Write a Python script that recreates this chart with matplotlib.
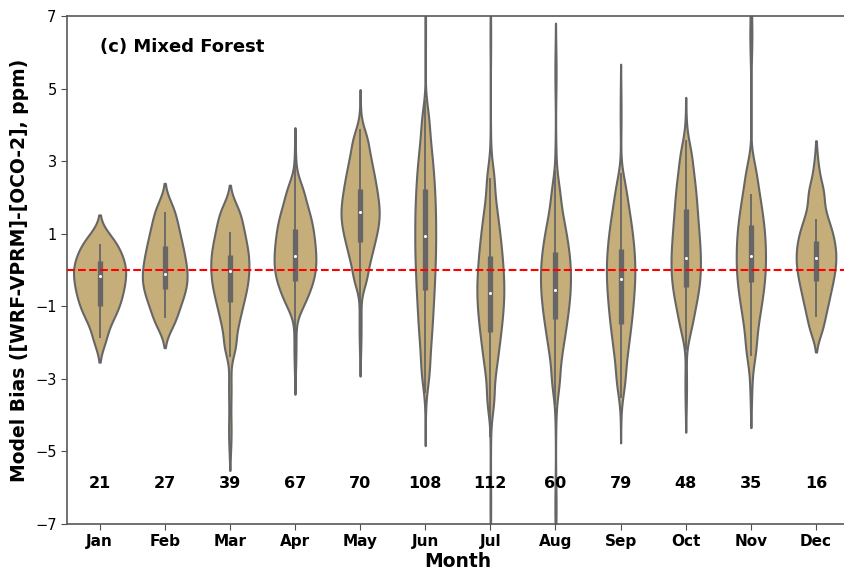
import numpy as np
import matplotlib
matplotlib.use("Agg")
import matplotlib.pyplot as plt

months = ["Jan", "Feb", "Mar", "Apr", "May", "Jun",
          "Jul", "Aug", "Sep", "Oct", "Nov", "Dec"]
counts = [21, 27, 39, 67, 70, 108, 112, 60, 79, 48, 35, 16]

# bulk of each month's bias values (ppm)
bias_jan = [0.88, 0.73, 0.50, 0.34, 0.20, 0.07, -0.07, -0.21, -0.35, -0.50,
            -0.65, -0.82, -0.99, -1.19, -1.42, -1.90]
bias_feb = [1.75, 1.40, 1.12, 0.87, 0.66, 0.46, 0.28, 0.10, -0.06, -0.22,
            -0.38, -0.54, -0.73, -0.92, -1.20, -1.50]
bias_mar = [1.70, 1.39, 1.11, 0.88, 0.66, 0.47, 0.29, 0.11, -0.08, -0.26,
            -0.45, -0.66, -0.90, -1.18, -1.55, -2.10]
bias_apr = [2.26, 1.88, 1.59, 1.38, 1.17, 0.98, 0.80, 0.62, 0.45, 0.28,
            0.12, -0.05, -0.23, -0.41, -0.64, -0.95]
bias_may = [3.63, 3.19, 2.87, 2.60, 2.37, 2.15, 1.95, 1.76, 1.58, 1.40,
            1.22, 1.01, 0.80, 0.53, 0.22, -0.25]
bias_jun = [4.16, 3.49, 3.03, 2.67, 2.34, 2.03, 1.74, 1.46, 1.18, 0.90,
            0.62, 0.34, 0.06, -0.26, -0.57, -0.90, -1.30, -1.68, -2.20, -2.86]
bias_jul = [2.53, 1.84, 1.41, 1.07, 0.79, 0.52, 0.28, 0.05, -0.16, -0.38,
            -0.59, -0.79, -1.00, -1.23, -1.47, -1.72, -2.02, -2.36, -2.80, -3.56]
bias_aug = [2.15, 1.56, 1.23, 0.95, 0.73, 0.51, 0.32, 0.13, -0.05, -0.23,
            -0.41, -0.60, -0.78, -0.98, -1.19, -1.43, -1.68, -1.99, -2.38, -3.05]
bias_sep = [2.33, 1.84, 1.49, 1.22, 0.96, 0.73, 0.52, 0.31, 0.11, -0.09,
            -0.29, -0.49, -0.71, -0.93, -1.17, -1.43, -1.70, -2.04, -2.45, -3.08]
bias_oct = [3.21, 2.68, 2.32, 2.01, 1.72, 1.45, 1.19, 0.95, 0.72, 0.50,
            0.29, 0.08, -0.14, -0.34, -0.59, -0.83, -1.16, -1.61]
bias_nov = [2.71, 2.16, 1.79, 1.47, 1.20, 0.95, 0.70, 0.47, 0.23, -0.01,
            -0.24, -0.51, -0.78, -1.12, -1.54, -2.18]
bias_dec = [2.10, 1.59, 1.28, 1.06, 0.86, 0.68, 0.50, 0.33, 0.17, -0.02,
            -0.20, -0.40, -0.63, -0.89, -1.19, -1.62]

# isolated single points out in the tails
tail_jan = []
tail_feb = []
tail_mar = [-3.2, -4.5]
tail_apr = [2.9, -1.6, -2.4]
tail_may = [3.95, -1.1, -1.9]
tail_jun = [6.6, -3.4]
tail_jul = [6.4, 3.2, -4.2, -6.4]
tail_aug = [5.46, 2.8, -3.6, -6.5]
tail_sep = [4.33, -3.42]
tail_oct = [3.48, -3.19]
tail_nov = [6.5, -3.0]
tail_dec = [2.54]

# kde bandwidth per month (ppm)
bandwidth = [0.32, 0.32, 0.32, 0.32, 0.32, 0.45, 0.42, 0.42, 0.42, 0.4, 0.42, 0.32]

# inner box stats
q1 = [-0.99, -0.51, -0.87, -0.30, 0.76, -0.56, -1.71, -1.36, -1.48, -0.46, -0.33, -0.30]
median = [-0.16, -0.11, -0.02, 0.38, 1.59, 0.93, -0.63, -0.54, -0.25, 0.32, 0.39, 0.34]
q3 = [0.25, 0.65, 0.41, 1.13, 2.22, 2.23, 0.39, 0.49, 0.57, 1.67, 1.23, 0.80]
whisker_lo = [-1.87, -1.31, -2.41, -2.07, -1.08, -3.4, -4.6, -3.72, -3.53, -2.2, -2.36, -1.29]
whisker_hi = [0.73, 1.60, 1.06, 3.08, 3.90, 4.7, 2.54, 2.76, 2.67, 3.58, 2.09, 1.42]

bodies = [bias_jan, bias_feb, bias_mar, bias_apr, bias_may, bias_jun,
          bias_jul, bias_aug, bias_sep, bias_oct, bias_nov, bias_dec]
tails = [tail_jan, tail_feb, tail_mar, tail_apr, tail_may, tail_jun,
         tail_jul, tail_aug, tail_sep, tail_oct, tail_nov, tail_dec]

FILL = "#c6ae7b"
LINE = "#666666"


def kde_profile(body, tail, n, bw, cut=2, gridsize=400):
    # tail points count as one observation each (wider kernel),
    # the bulk shares the rest
    pts = np.array(body + tail, float)
    bws = np.r_[np.full(len(body), bw), np.full(len(tail), 1.6 * bw)]
    w = np.r_[np.full(len(body), (n - len(tail)) / (n * len(body))),
              np.full(len(tail), 1.0 / n)]
    lo = (pts - cut * bws).min()
    hi = (pts + cut * bws).max()
    grid = np.linspace(lo, hi, gridsize)
    z = (grid[:, None] - pts[None, :]) / bws
    dens = (w * np.exp(-0.5 * z ** 2) / (bws * np.sqrt(2 * np.pi))).sum(axis=1)
    return grid, dens


profiles = [kde_profile(b, t, n, bw)
            for b, t, n, bw in zip(bodies, tails, counts, bandwidth)]
peak = max(d.max() for _, d in profiles)   # area scaling, like seaborn

fig = plt.figure(figsize=(8.44, 5.72), dpi=100)
ax = fig.add_axes([0.0794, 0.0839, 0.926, 0.888])

for i, (grid, dens) in enumerate(profiles):
    half = 0.4 * dens / peak
    ax.fill_betweenx(grid, i - half, i + half, facecolor=FILL,
                     edgecolor=LINE, linewidth=1.5, zorder=1)
    ax.vlines(i, whisker_lo[i], whisker_hi[i], color=LINE, lw=1.3, zorder=2)
    ax.vlines(i, q1[i], q3[i], color=LINE, lw=3.8, zorder=2, capstyle="butt")

ax.axhline(0, color="red", ls="--", lw=1.5, zorder=3)
ax.plot(range(12), median, "o", color="white", ms=2.2, mec="none", zorder=4)

for i, n in enumerate(counts):
    ax.text(i, -5.87, str(n), ha="center", va="center",
            fontsize=11.5, fontweight="bold")

ax.text(0, 6.14, "(c) Mixed Forest", ha="left", va="center",
        fontsize=13, fontweight="bold")

ax.set_xlim(-0.5, 11.5)
ax.set_ylim(-7, 7)
ax.set_yticks([-7, -5, -3, -1, 1, 3, 5, 7])
ax.set_xticks(range(12))
ax.set_xticklabels(months, fontsize=11, fontweight="bold")
ax.tick_params(axis="y", labelsize=10.5)
ax.tick_params(colors="0.3", labelcolor="black", length=4)
for s in ax.spines.values():
    s.set_color("0.35")
    s.set_linewidth(1.2)
ax.set_xlabel("Month", fontsize=13.5, fontweight="bold", labelpad=2)
ax.set_ylabel("Model Bias ([WRF-VPRM]-[OCO-2], ppm)", fontsize=13.5,
              fontweight="bold")

fig.savefig("out.png", dpi=100)
